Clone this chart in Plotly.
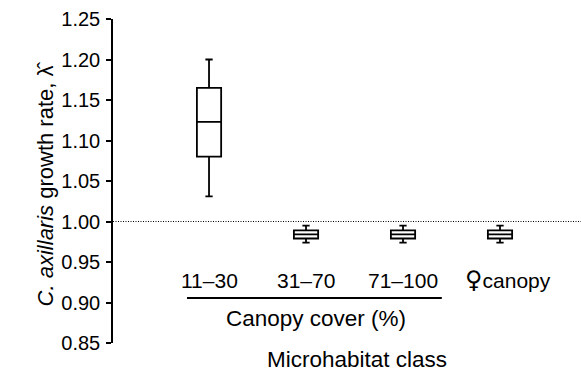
import plotly.graph_objects as go

categories = ["11–30", "31–70", "71–100", "♀canopy"]
positions = [0, 1, 2, 3]
lower_whisker = [1.031, 0.974, 0.974, 0.974]
q1_values = [1.080, 0.979, 0.979, 0.979]
median_values = [1.123, 0.984, 0.984, 0.984]
q3_values = [1.165, 0.989, 0.989, 0.989]
upper_whisker = [1.200, 0.995, 0.995, 0.995]
y_ticks = [0.85, 0.90, 0.95, 1.00, 1.05, 1.10, 1.15, 1.20, 1.25]

FONT = "Liberation Sans, Arial, Helvetica, sans-serif"

fig = go.Figure()
fig.add_trace(go.Box(
    x=positions,
    q1=q1_values, median=median_values, q3=q3_values,
    lowerfence=lower_whisker, upperfence=upper_whisker,
    width=0.25, whiskerwidth=0.3,
    fillcolor="white",
    line=dict(color="black", width=1.8),
    boxpoints=False, hoverinfo="skip", showlegend=False,
))

# reference line at lambda = 1
fig.add_shape(type="line", xref="paper", yref="y", x0=0, x1=1, y0=1.0, y1=1.0,
              line=dict(color="black", width=1, dash="1px,1.5px"), layer="below")
# bracket line under canopy cover classes
fig.add_shape(type="line", xref="x", yref="paper", x0=-0.227, x1=2.40, y0=0.139, y1=0.139,
              line=dict(color="black", width=2))

for xpos, lab in zip(positions, categories):
    if lab.startswith("♀"):
        text = ('<span style="font-family:DejaVu Sans;font-size:24px">♀</span>'
                + lab[1:])
        xp = xpos + 0.08
    else:
        text = lab
        xp = xpos
    fig.add_annotation(x=xp, y=0.194, xref="x", yref="paper", text=text, showarrow=False,
                       font=dict(size=21, color="black", family=FONT), xanchor="center", yanchor="middle")

fig.add_annotation(x=1.10, y=0.077, xref="x", yref="paper", text="Canopy cover (%)", showarrow=False,
                   font=dict(size=22.5, color="black", family=FONT), xanchor="center", yanchor="middle")
fig.add_annotation(x=1.526, y=-0.052, xref="x", yref="paper", text="Microhabitat class", showarrow=False,
                   font=dict(size=22.5, color="black", family=FONT), xanchor="center", yanchor="middle")
fig.add_annotation(x=-0.145, y=0.49, xref="paper", yref="paper",
                   text="<i>C. axillaris</i> growth rate, λ\u0302", textangle=-90, showarrow=False,
                   font=dict(size=22, color="black", family=FONT), xanchor="center", yanchor="middle")

fig.update_layout(
    width=581, height=371,
    margin=dict(l=113, r=0, t=19, b=28),
    paper_bgcolor="white", plot_bgcolor="white",
    font=dict(family=FONT, color="black"),
    xaxis=dict(range=[-0.99, 3.835], visible=False, fixedrange=True),
    yaxis=dict(range=[0.85, 1.25], tickvals=y_ticks, ticktext=[f"{v:.2f}" for v in y_ticks],
               showline=True, linecolor="black", linewidth=1.5,
               ticks="outside", ticklen=5, tickwidth=1.5, tickcolor="black",
               showgrid=False, zeroline=False, tickfont=dict(size=20, color="black", family=FONT),
               ticklabelstandoff=2),
)

fig.write_html("out.html")
